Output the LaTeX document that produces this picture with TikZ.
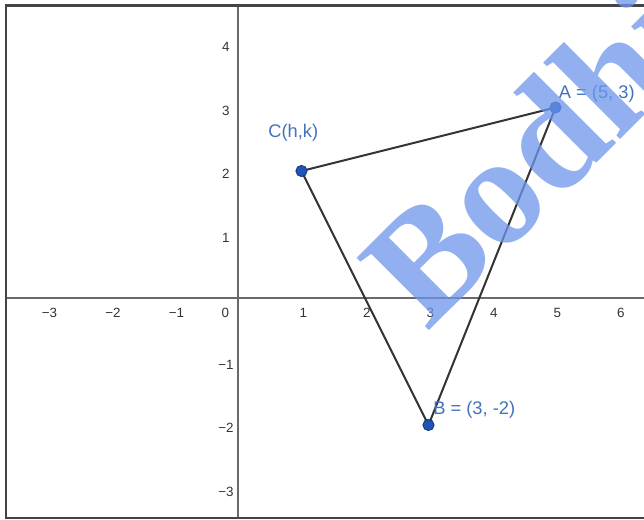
\documentclass[tikz,border=0pt]{standalone}
\usepackage{fontspec}
\setmainfont{Liberation Sans}
\newfontfamily\wmfont{Liberation Serif}
\usepackage{tikz}
\usetikzlibrary{positioning}
\definecolor{frameg}{HTML}{444444}
\definecolor{axisg}{HTML}{6A6A6A}
\definecolor{segg}{HTML}{333333}
\definecolor{ptblue}{HTML}{1F55B8}
\definecolor{ptedge}{HTML}{15397A}
\definecolor{lblblue}{HTML}{4272BC}
\definecolor{wmblue}{HTML}{6E96EB}

\begin{document}
\begin{tikzpicture}[
  frame/.style={draw=frameg,line width=1.3pt},
  axis/.style={draw=axisg,line width=0.8pt},
  seg/.style={draw=segg,line width=0.9pt},
  pt/.style={circle,fill=ptblue,draw=ptedge,line width=0.4pt,inner sep=0pt,
    minimum size=5pt},
  lbl/.style={text=lblblue,font=\fontsize{8.2}{9}\selectfont,inner sep=1pt},
  tick/.style={text=segg,font=\fontsize{6}{7}\selectfont,inner sep=0pt},
  wm/.style={text=wmblue,text opacity=0.75,font=\wmfont\bfseries\fontsize{70}{70}\selectfont,
    inner sep=0pt}]
\clip (-3.748,-3.496) rectangle (6.394,4.693);
\fill[white] (-3.748,-3.496) rectangle (6.394,4.693);
% axes and frame
\draw[axis] (-3.654,0) -- (6.6,0);
\draw[axis] (0,-3.465) -- (0,4.598);
\draw[frame] (-3.654,-3.465) rectangle (6.8,4.603);
\foreach \x in {-3,-2,-1,1,2,3,4,5,6}
  \node[tick] at (\x+0.03,-0.24) {\ifnum\x<0 −\the\numexpr-\x\relax\else\x\fi};
\foreach \y in {-3,-2,-1,1,2,3,4}
  \node[tick] at (-0.19,\y-0.05) {\ifnum\y<0 −\the\numexpr-\y\relax\else\y\fi};
\node[tick] at (-0.2,-0.24) {0};
% triangle
\coordinate (a) at (5,3);
\coordinate (b) at (3,-2);
\coordinate (c) at (1,2);
\draw[seg] (c) -- (a) -- (b) -- cycle;
\node[pt] (A) at (a) {};
\node[pt] (B) at (b) {};
\node[pt] (C) at (c) {};
\node[lbl] (Alab) at (5.65,3.21) {A = (5, 3)};
\node[lbl] (Blab) at (3.72,-1.76) {B = (3, -2)};
\node[lbl] (Clab) at (0.87,2.6) {C(h,k)};
% watermark
\node[wm,rotate=45,anchor=base west] (mark) at (2.976,-0.551) {Bodhi};
\end{tikzpicture}
\end{document}
